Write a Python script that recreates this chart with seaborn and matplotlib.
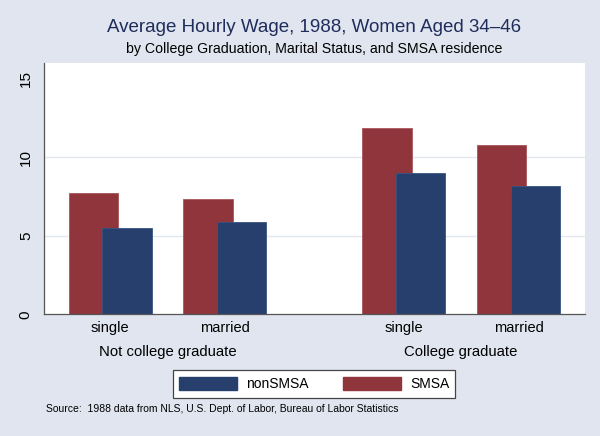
import numpy as np
import pandas as pd
import matplotlib
matplotlib.use("Agg")
import matplotlib.pyplot as plt
import matplotlib.transforms as mtransforms
from matplotlib.patches import Patch
import seaborn as sns

# ------------------------------------------------------------
# data
# ------------------------------------------------------------
groups = ["Not college graduate", "College graduate"]
marital = ["single", "married", "single", "married"]
smsa_wage = [7.73, 7.31, 11.84, 10.74]
nonsmsa_wage = [5.51, 5.87, 8.96, 8.14]
series = ["nonSMSA", "SMSA"]

# layout: slot centres (Stata over() spacing with a gap between groups)
slot_pos = np.array([0.0, 1.0, 2.56, 3.56])
bar_shift = 0.147
bar_width = 0.431

BG = "#E0E5EF"
NAVY = "#263F6D"
MAROON = "#90353C"
TITLE_COL = "#1E2D5B"

sns.set_style("white")
plt.rcParams["font.family"] = ["Liberation Sans", "DejaVu Sans"]
plt.rcParams["text.color"] = "black"
plt.rcParams["xtick.color"] = "black"
plt.rcParams["ytick.color"] = "black"

fig = plt.figure(figsize=(6, 4.36), dpi=100, facecolor=BG)
ax = fig.add_axes([0.0733, 0.2791, 0.901, 0.5771])
ax.set_facecolor("white")

# SMSA first, nonSMSA drawn over it (overlapping bars)
sns.barplot(x=slot_pos - bar_shift, y=smsa_wage, native_scale=True,
            width=bar_width, color=MAROON, saturation=1, errorbar=None,
            edgecolor="#A8565C", linewidth=0.6, ax=ax)
sns.barplot(x=slot_pos + bar_shift, y=nonsmsa_wage, native_scale=True,
            width=bar_width, color=NAVY, saturation=1, errorbar=None,
            edgecolor="#3A5382", linewidth=0.6, ax=ax)

ax.set_xlim(-0.577, 4.136)
ax.set_ylim(0, 16)
ax.set_yticks([0, 5, 10, 15])
ax.set_xticks(slot_pos)
ax.set_xticklabels(marital, fontsize=10.5)
ax.tick_params(axis="x", length=0, pad=5)
ax.tick_params(axis="y", length=5, width=0.8, color="#555555", pad=3,
               labelsize=11, labelrotation=90)
for lab in ax.get_yticklabels():
    lab.set_va("center")
ax.set_xlabel("")
ax.set_ylabel("")

ax.yaxis.grid(True, color="#E1E6EF", linewidth=1.0)
ax.set_axisbelow(True)
gl = ax.yaxis.get_gridlines()
gl[0].set_visible(False)
gl[-1].set_visible(False)

for side in ["top", "right"]:
    ax.spines[side].set_visible(False)
for side in ["left", "bottom"]:
    ax.spines[side].set_color("#555555")
    ax.spines[side].set_linewidth(0.9)

# group labels under the category labels
trans = mtransforms.blended_transform_factory(ax.transData, fig.transFigure)
for gi, g in enumerate(groups):
    cx = slot_pos[gi * 2: gi * 2 + 2].mean()
    ax.text(cx, 1 - 352 / 436, g, transform=trans, ha="center", va="center",
            fontsize=10.7)

# titles centred over the plot region
cx_fig = 0.0733 + 0.901 / 2
fig.text(cx_fig, 1 - 27 / 436, "Average Hourly Wage, 1988, Women Aged 34\u201346",
         ha="center", va="center", fontsize=13.5, color=TITLE_COL)
fig.text(cx_fig, 1 - 49 / 436, "by College Graduation, Marital Status, and SMSA residence",
         ha="center", va="center", fontsize=10.2, color="black")

handles = [Patch(facecolor=NAVY, edgecolor=NAVY), Patch(facecolor=MAROON, edgecolor=MAROON)]
leg = fig.legend(handles, series, loc="center", bbox_to_anchor=(cx_fig, 1 - 384 / 436),
                 ncol=2, fontsize=10, frameon=True, fancybox=False,
                 handlelength=4.17, handleheight=1.15, handletextpad=0.65,
                 columnspacing=2.45, borderpad=0.45, borderaxespad=0)
leg.get_frame().set_edgecolor("#444444")
leg.get_frame().set_linewidth(0.9)
leg.get_frame().set_facecolor("white")
leg.get_frame().set_alpha(1)

fig.text(46 / 600, 1 - 409 / 436,
         "Source:  1988 data from NLS, U.S. Dept. of Labor, Bureau of Labor Statistics",
         ha="left", va="center", fontsize=7.5)

fig.savefig("out.png", dpi=100, facecolor=BG)
